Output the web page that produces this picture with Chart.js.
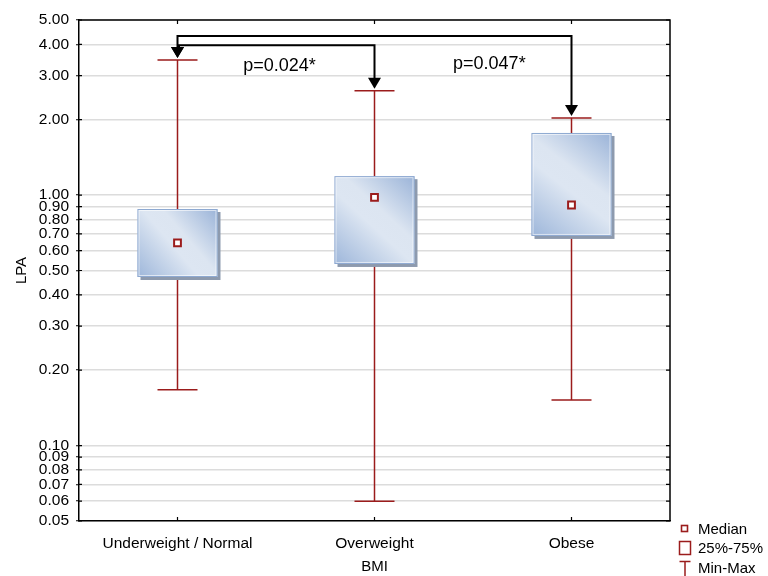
<!DOCTYPE html>
<html><head><meta charset="utf-8">
<script src="https://cdn.jsdelivr.net/npm/chart.js@4/dist/chart.umd.min.js"></script>
<style>
html,body{margin:0;padding:0;background:#fff;}
#wrap{position:relative;width:768px;height:576px;}
#legend{position:absolute;left:0;top:0;font:15px "Liberation Sans",Arial,sans-serif;color:#000;}
.lg{position:absolute;white-space:nowrap;line-height:18px;height:18px;}
.mk{position:absolute;}
</style>
</head><body>
<div id="wrap">
<canvas id="c" width="768" height="576"></canvas>
<div id="legend">
  <svg class="mk" style="left:679px;top:523px" width="11" height="11"><rect x="2.5" y="2.5" width="6" height="6" fill="#fff" stroke="#9b1c1c" stroke-width="1.6"/></svg>
  <div class="lg" style="left:698px;top:520px">Median</div>
  <svg class="mk" style="left:677px;top:539px" width="16" height="18"><rect x="2.5" y="2.5" width="11" height="13" fill="#fff" stroke="#9b1c1c" stroke-width="1.5"/></svg>
  <div class="lg" style="left:698px;top:539px">25%-75%</div>
  <svg class="mk" style="left:677px;top:559px" width="16" height="17"><path d="M2.5 2.5 H13.5 M8 2.5 V17" fill="none" stroke="#9b1c1c" stroke-width="1.5"/></svg>
  <div class="lg" style="left:698px;top:559px">Min-Max</div>
</div>
</div>
<script>
// ---- data ----
const categories = ['Underweight / Normal', 'Overweight', 'Obese'];
const minVals    = [0.167, 0.060, 0.152];
const q1Vals     = [0.471, 0.531, 0.687];
const medianVals = [0.644, 0.980, 0.913];
const q3Vals     = [0.880, 1.190, 1.770];
const maxVals    = [3.46, 2.61, 2.03];
const yTickValues = [0.05,0.06,0.07,0.08,0.09,0.10,0.20,0.30,0.40,0.50,0.60,0.70,0.80,0.90,1.00,2.00,3.00,4.00,5.00];
const pLabels = ['p=0.024*', 'p=0.047*'];
const pPairs  = [[0,1],[0,2]];

const RED = '#9b1c1c';
const FONT = '"Liberation Sans", Arial, sans-serif';

const boxPlugin = {
  id: 'boxdraw',
  beforeDatasetsDraw(chart) {
    const meta = chart.getDatasetMeta(0);
    const ys = chart.scales.y, ctx = chart.ctx;
    ctx.save();
    ctx.strokeStyle = RED; ctx.lineWidth = 1.5;
    meta.data.forEach((el, i) => {
      const x = el.x;
      const yMin = ys.getPixelForValue(minVals[i]);
      const yMax = ys.getPixelForValue(maxVals[i]);
      ctx.beginPath();
      ctx.moveTo(x, yMin); ctx.lineTo(x, yMax);
      ctx.moveTo(x - 20, yMin); ctx.lineTo(x + 20, yMin);
      ctx.moveTo(x - 20, yMax); ctx.lineTo(x + 20, yMax);
      ctx.stroke();
    });
    ctx.restore();
  },
  afterDatasetDraw(chart, args) {
    if (args.index !== 0) return;
    const ctx = chart.ctx;
    const meta = chart.getDatasetMeta(0);
    ctx.save();
    meta.data.forEach((el) => {
      const p = el.getProps(['x', 'y', 'base', 'width'], true);
      const left = p.x - p.width / 2;
      const t = Math.min(p.y, p.base), b = Math.max(p.y, p.base);
      const h = b - t, w = p.width;
      ctx.fillStyle = '#8d9aae';
      ctx.fillRect(left + 3, t + 3, w, h);
      const g = ctx.createLinearGradient(left, b, left + w, t);
      g.addColorStop(0, '#9db6da');
      g.addColorStop(0.45, '#dde6f2');
      g.addColorStop(0.6, '#dce5f1');
      g.addColorStop(1, '#9ab3d8');
      ctx.fillStyle = g;
      ctx.fillRect(left, t, w, h);
      ctx.strokeStyle = '#8ea9d1'; ctx.lineWidth = 1;
      ctx.strokeRect(left + 0.5, t + 0.5, w - 1, h - 1);
      ctx.strokeStyle = 'rgba(255,255,255,0.6)';
      ctx.strokeRect(left + 1.5, t + 1.5, w - 3, h - 3);
    });
    ctx.restore();
  },
  afterDraw(chart) {
    const ctx = chart.ctx, a = chart.chartArea;
    const xs = chart.scales.x, ys = chart.scales.y;
    ctx.save();
    ctx.strokeStyle = '#000'; ctx.lineWidth = 1.5;
    ctx.beginPath();
    ctx.moveTo(a.left, a.top); ctx.lineTo(a.right, a.top); ctx.lineTo(a.right, a.bottom);
    ctx.stroke();
    ctx.lineWidth = 1.2;
    ctx.beginPath();
    yTickValues.forEach(v => {
      const y = ys.getPixelForValue(v);
      ctx.moveTo(a.right, y); ctx.lineTo(a.right - 4, y);
      ctx.moveTo(a.left, y); ctx.lineTo(a.left + 3, y);
    });
    categories.forEach((c, i) => {
      const x = xs.getPixelForValue(i);
      ctx.moveTo(x, a.top); ctx.lineTo(x, a.top + 4);
      ctx.moveTo(x, a.bottom); ctx.lineTo(x, a.bottom - 4);
    });
    ctx.stroke();

    const opts = chart.options.plugins.boxdraw;
    ctx.strokeStyle = '#000'; ctx.fillStyle = '#000'; ctx.lineWidth = 2;
    const head = (x, tip) => {
      ctx.beginPath();
      ctx.moveTo(x - 6.5, tip - 11); ctx.lineTo(x + 6.5, tip - 11); ctx.lineTo(x, tip);
      ctx.closePath(); ctx.fill();
    };
    pPairs.forEach((pr, k) => {
      const br = opts.brackets[k];
      const x0 = xs.getPixelForValue(pr[0]) + br.offset;
      const x1 = xs.getPixelForValue(pr[1]);
      const yl = ys.getPixelForValue(br.level);
      const tip0 = ys.getPixelForValue(maxVals[pr[0]]) - 2;
      const tip1 = ys.getPixelForValue(maxVals[pr[1]]) - 2;
      ctx.beginPath();
      ctx.moveTo(x0, tip0 - 10); ctx.lineTo(x0, yl); ctx.lineTo(x1, yl); ctx.lineTo(x1, tip1 - 10);
      ctx.stroke();
      head(xs.getPixelForValue(pr[0]), tip0);
      head(x1, tip1);
      const lp = opts.labels[k];
      ctx.font = '18px ' + FONT;
      ctx.textAlign = 'center'; ctx.textBaseline = 'middle';
      ctx.fillText(pLabels[k], xs.getPixelForValue(lp.x), ys.getPixelForValue(lp.y));
    });
    ctx.restore();
  }
};

new Chart(document.getElementById('c'), {
  data: {
    labels: categories,
    datasets: [
      {
        type: 'bar',
        label: '25%-75%',
        data: q1Vals.map((q, i) => [q, q3Vals[i]]),
        backgroundColor: 'rgba(0,0,0,0)',
        borderWidth: 0,
        barPercentage: 0.406,
        categoryPercentage: 1,
        order: 2
      },
      {
        type: 'line',
        label: 'Median',
        data: medianVals,
        showLine: false,
        pointStyle: 'rect',
        pointRadius: 4.8,
        pointBorderWidth: 2,
        pointBorderColor: RED,
        pointBackgroundColor: '#fff',
        order: 1
      }
    ]
  },
  options: {
    responsive: false,
    animation: false,
    events: [],
    layout: { padding: { top: 20, right: 98, left: 0, bottom: 0 } },
    plugins: {
      legend: { display: false },
      tooltip: { enabled: false },
      boxdraw: {
        brackets: [{ level: 3.96, offset: 1.5 }, { level: 4.32, offset: 0 }],
        labels: [{ x: 0.518, y: 3.27 }, { x: 1.583, y: 3.35 }]
      }
    },
    scales: {
      x: {
        type: 'category',
        offset: true,
        grid: { display: false, drawTicks: false },
        border: { display: true, color: '#000', width: 1.5 },
        ticks: { color: '#000', font: { family: FONT, size: 15.5 }, padding: 13, maxRotation: 0 },
        title: { display: true, text: 'BMI', color: '#000', font: { family: FONT, size: 15 }, padding: { top: 0, bottom: 0 } },
        afterFit(s) { s.height = 55; }
      },
      y: {
        type: 'logarithmic',
        min: 0.05, max: 5,
        afterBuildTicks(s) { s.ticks = yTickValues.map(v => ({ value: v })); },
        ticks: {
          autoSkip: false,
          color: '#000',
          font: { family: FONT, size: 15.5 },
          padding: 7,
          callback: (v) => Number(v).toFixed(2)
        },
        grid: { color: '#dcdcdc', lineWidth: 1.5, tickColor: '#000', tickLength: 3, tickWidth: 1.2 },
        border: { display: true, color: '#000', width: 1.5 },
        title: { display: true, text: 'LPA', color: '#000', font: { family: FONT, size: 15 }, padding: { top: 13, bottom: 0 } },
        afterFit(s) { s.width = 79; }
      }
    }
  },
  plugins: [boxPlugin]
});
</script>
</body></html>
